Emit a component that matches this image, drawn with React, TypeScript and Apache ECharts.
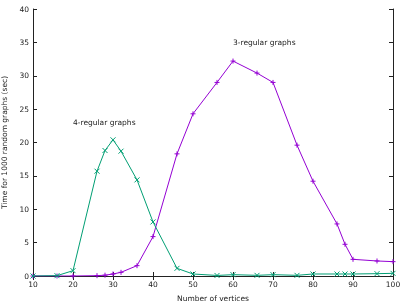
import React, { useEffect, useRef } from "react";
import * as echarts from "echarts";

const vertices = [10, 16, 20, 26, 28, 30, 32, 36, 40, 46, 50, 56, 60, 66, 70, 76, 80, 86, 88, 90, 96, 100];
const regular3 = [0, 0, 0, 0.05, 0.12, 0.3, 0.55, 1.55, 5.9, 18.3, 24.3, 29.0, 32.2, 30.4, 29.0, 19.6, 14.2, 7.8, 4.75, 2.5, 2.25, 2.15];
const regular4 = [0, 0.05, 0.8, 15.7, 18.8, 20.4, 18.7, 14.4, 8.1, 1.15, 0.3, 0.08, 0.2, 0.1, 0.2, 0.1, 0.3, 0.3, 0.3, 0.3, 0.35, 0.4];
const label3 = { text: "3-regular graphs", x: 60, y: 35 };
const label4 = { text: "4-regular graphs", x: 20, y: 23 };

const PURPLE = "#9400d3";
const GREEN = "#009e73";
const AXIS = "#222";
const FONT = "DejaVu Sans";

export default function App() {
  const ref = useRef<HTMLDivElement>(null);
  useEffect(() => {
    const chart = echarts.init(ref.current!, null, { renderer: "svg" });
    const axisCommon = {
      axisLine: { show: true, lineStyle: { color: AXIS, width: 1 } },
      axisTick: { show: true, inside: true, length: 4, lineStyle: { color: AXIS } },
      splitLine: { show: false },
    };
    const mk = (xs: number[], ys: number[]) => xs.map((x, i) => [x, ys[i]]);
    chart.setOption({
      animation: false,
      grid: { left: 33, right: 14, top: 9, bottom: 29, containLabel: false, outerBoundsMode: "none" },
      textStyle: { fontFamily: FONT },
      xAxis: [
        {
          type: "value", min: 10, max: 100, interval: 10, position: "bottom",
          name: "Number of vertices", nameLocation: "middle", nameGap: 18,
          nameTextStyle: { fontSize: 7.5, color: AXIS, fontFamily: FONT },
          axisLabel: { fontSize: 7.5, color: AXIS, margin: 4, fontFamily: FONT },
          ...axisCommon,
        },
        {
          type: "value", min: 10, max: 100, interval: 10, position: "top",
          axisLabel: { show: false },
          ...axisCommon,
        },
      ],
      yAxis: [
        {
          type: "value", min: 0, max: 40, interval: 5, position: "left",
          name: "Time for 1000 random graphs (sec)", nameLocation: "middle", nameGap: 17,
          nameTextStyle: { fontSize: 7.5, color: AXIS, fontFamily: FONT },
          axisLabel: { fontSize: 7.5, color: AXIS, margin: 4, fontFamily: FONT },
          ...axisCommon,
        },
        {
          type: "value", min: 0, max: 40, interval: 5, position: "right",
          axisLabel: { show: false },
          ...axisCommon,
        },
      ],
      series: [
        {
          type: "line",
          data: mk(vertices, regular3),
          symbol: "path://M0,5L10,5M5,0L5,10",
          symbolSize: 5,
          showAllSymbol: true,
          lineStyle: { color: PURPLE, width: 1 },
          itemStyle: { color: PURPLE, borderColor: PURPLE, borderWidth: 1 },
          z: 3,
          markPoint: {
            symbol: "circle", symbolSize: 0,
            label: { show: true, position: "right", distance: 0, formatter: "{b}", color: AXIS, fontSize: 7.5, fontFamily: FONT },
            data: [{ name: label3.text, coord: [label3.x, label3.y] }],
          },
        },
        {
          type: "line",
          data: mk(vertices, regular4),
          symbol: "path://M0,0L10,10M10,0L0,10",
          symbolSize: 5,
          showAllSymbol: true,
          lineStyle: { color: GREEN, width: 1 },
          itemStyle: { color: GREEN, borderColor: GREEN, borderWidth: 1 },
          z: 4,
          markPoint: {
            symbol: "circle", symbolSize: 0,
            label: { show: true, position: "right", distance: 0, formatter: "{b}", color: AXIS, fontSize: 7.5, fontFamily: FONT },
            data: [{ name: label4.text, coord: [label4.x, label4.y] }],
          },
        },
      ],
    });
    return () => chart.dispose();
  }, []);
  return <div ref={ref} style={{ width: 407, height: 305, position: "fixed", left: 0, top: 0 }} />;
}
